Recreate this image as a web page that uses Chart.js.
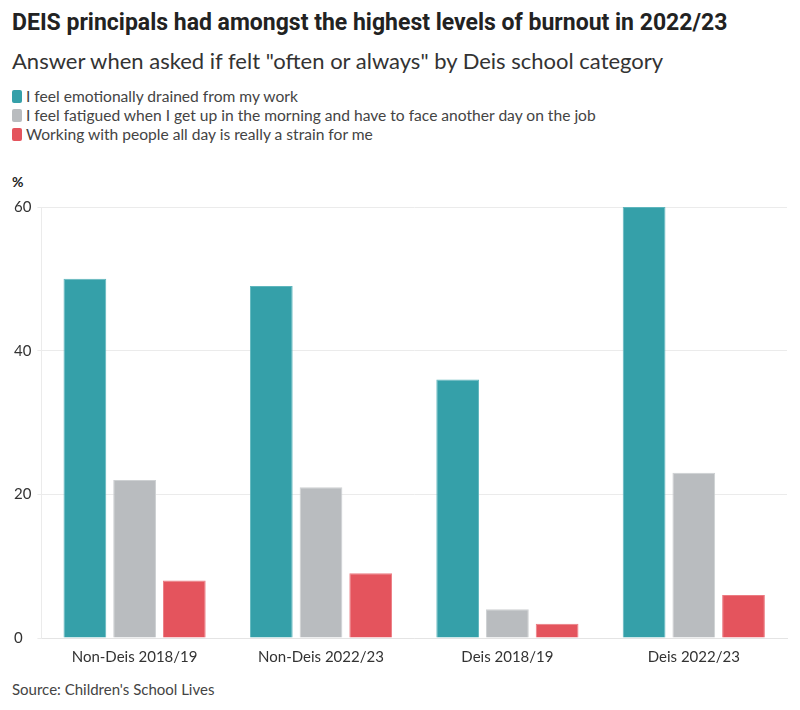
<!DOCTYPE html>
<html>
<head>
<meta charset="utf-8">
<script src="https://cdn.jsdelivr.net/npm/chart.js@4"></script>
<style>
  body { margin: 0; background: #fff; font-family: Lato, "Noto Sans", sans-serif; color: #333; }
  #wrap { position: relative; width: 800px; height: 710px; }
  h1 { position: absolute; left: 12px; top: 9px; margin: 0; font-family: "Liberation Sans Narrow", "Roboto", sans-serif; font-weight: bold; font-size: 23px; color: #222; }
  .sub { position: absolute; left: 12px; top: 47px; font-size: 22px; color: #333; }
  #legend { position: absolute; left: 12px; top: 87px; font-size: 15.6px; color: #444; }
  #legend div { height: 19px; line-height: 19px; display: flex; align-items: center; }
  #legend span.box { display: inline-block; width: 10px; height: 13px; border-radius: 2px; margin-right: 4px; }
  .unit { position: absolute; left: 12px; top: 173px; font-size: 14px; font-weight: bold; color: #222; }
  #chartBox { position: absolute; left: 0; top: 195px; width: 800px; height: 473px; }
  .source { position: absolute; left: 12px; top: 680px; font-size: 15px; color: #444; }
</style>
</head>
<body>
<div id="wrap">
  <h1>DEIS principals had amongst the highest levels of burnout in 2022/23</h1>
  <div class="sub">Answer when asked if felt "often or always" by Deis school category</div>
  <div id="legend"></div>
  <div class="unit">%</div>
  <div id="chartBox"><canvas id="burnoutChart"></canvas></div>
  <div class="source">Source: Children's School Lives</div>
</div>
<script>
// ===== DATA =====
const categories = ['Non-Deis 2018/19', 'Non-Deis 2022/23', 'Deis 2018/19', 'Deis 2022/23'];
const seriesNames = [
  'I feel emotionally drained from my work',
  'I feel fatigued when I get up in the morning and have to face another day on the job',
  'Working with people all day is really a strain for me'
];
const drained  = [50, 49, 36, 60];
const fatigued = [22, 21, 4, 23];
const strain   = [8, 9, 2, 6];
const yTicks   = [0, 20, 40, 60];

const colors = ['#35a0a9', '#b9bcbf', '#e4545d'];
const borders = ['#5fb6bd', '#cdd0d2', '#ec7b82'];

// ===== LEGEND =====
const legend = document.getElementById('legend');
seriesNames.forEach((name, i) => {
  const row = document.createElement('div');
  row.innerHTML = `<span class="box" style="background:${colors[i]}"></span>${name}`;
  legend.appendChild(row);
});

// ===== CHART =====
new Chart(document.getElementById('burnoutChart'), {
  type: 'bar',
  data: {
    labels: categories,
    datasets: [drained, fatigued, strain].map((d, i) => ({
      label: seriesNames[i],
      data: d,
      backgroundColor: colors[i],
      borderColor: borders[i],
      borderWidth: 1,
      categoryPercentage: 0.8,
      barPercentage: 0.86
    }))
  },
  options: {
    responsive: true,
    maintainAspectRatio: false,
    animation: false,
    layout: { padding: { left: 14, right: 13, top: 9, bottom: 0 } },
    plugins: { legend: { display: false }, tooltip: { enabled: false } },
    scales: {
      x: {
        grid: { display: false },
        border: { color: '#e4e4e4' },
        ticks: { color: '#333', font: { family: 'Lato', size: 15 }, padding: 2 }
      },
      y: {
        min: 0, max: 60,
        afterBuildTicks: axis => { axis.ticks = yTicks.map(v => ({ value: v })); },
        grid: { color: '#ebebeb', tickLength: 4 },
        border: { display: true, color: '#ebebeb' },
        ticks: { color: '#333', font: { family: 'Lato', size: 15 }, crossAlign: 'far', padding: 3 }
      }
    }
  }
});
</script>
</body>
</html>
